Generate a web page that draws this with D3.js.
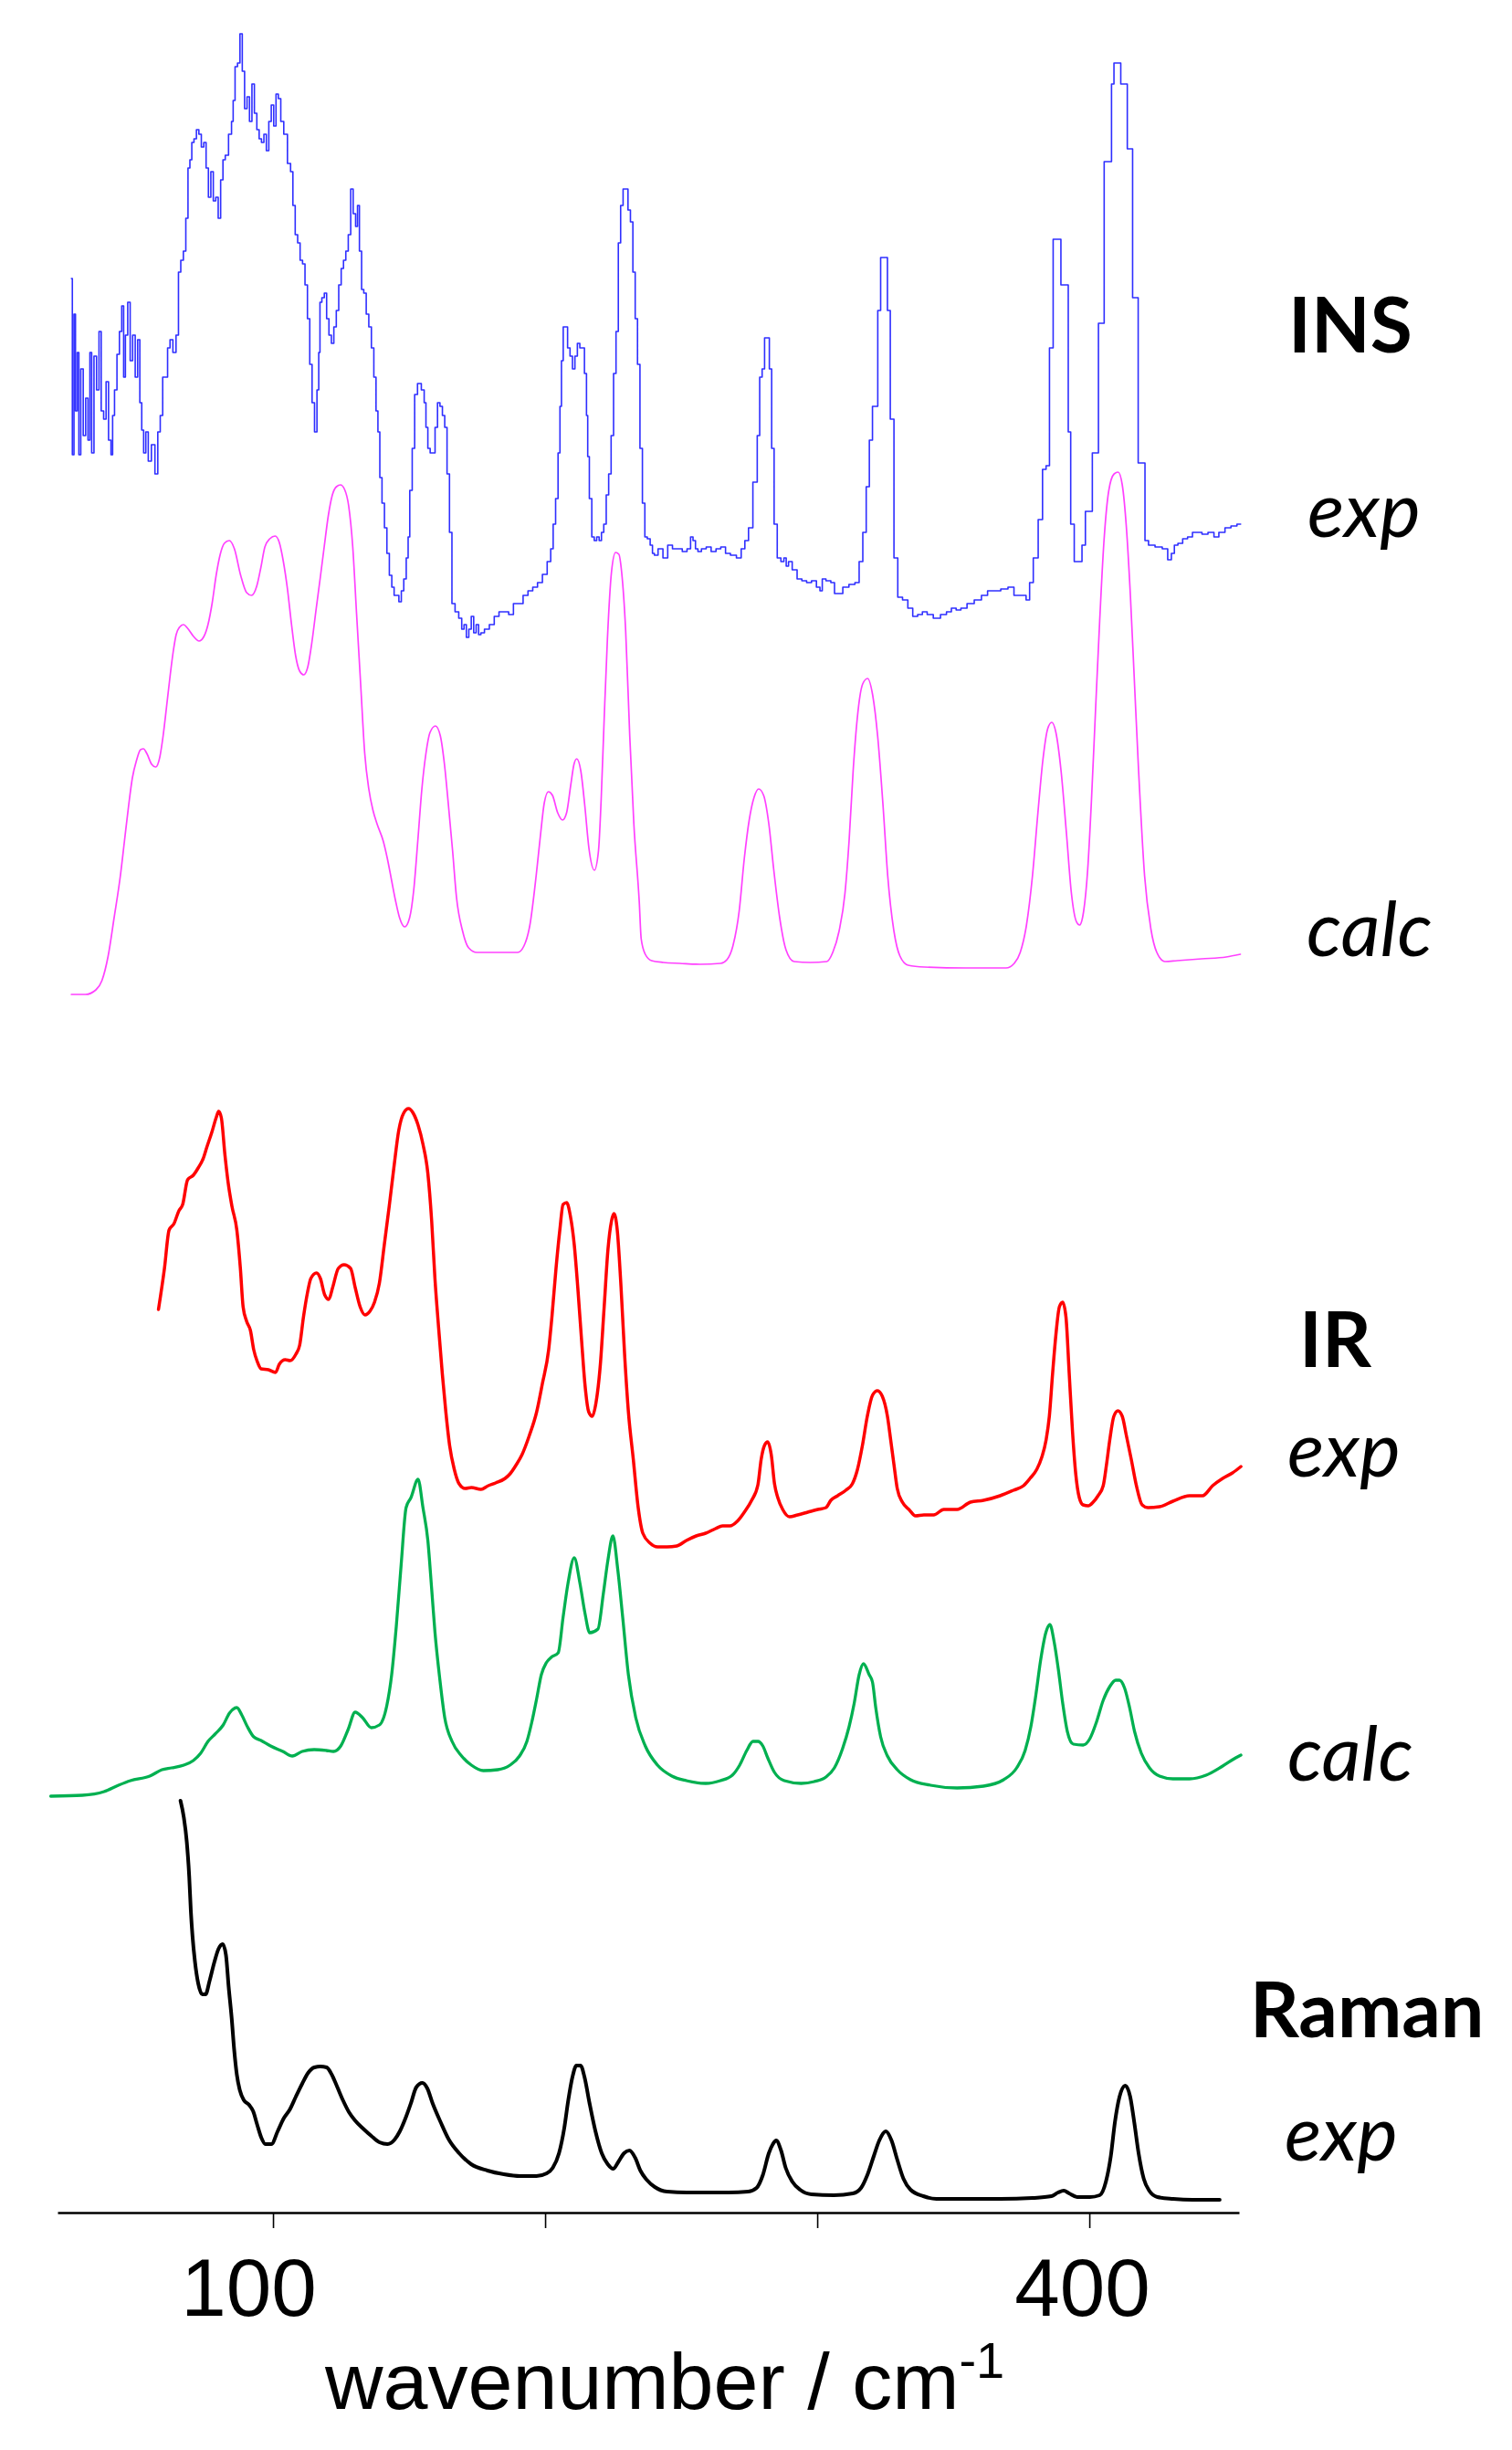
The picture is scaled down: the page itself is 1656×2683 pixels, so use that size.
<!DOCTYPE html>
<html><head>
<meta charset="utf-8">
<title>INS / IR / Raman spectra</title>
<script src="https://d3js.org/d3.v7.min.js"></script>
<style>
  body { margin: 0; background: #fff; }
  .label { font-family: Lato, "Open Sans", sans-serif; font-size: 84px; fill: #000; }
  .label.bold { font-weight: 700; }
  .label.ital { font-style: italic; }
  .axis text { font-family: "Liberation Sans", Arial, sans-serif; font-size: 89px; fill: #000; }
  .axis path, .axis line { stroke: #000; }
  .title { font-family: "Liberation Sans", Arial, sans-serif; font-size: 88px; fill: #000; }
  .spectrum { fill: none; stroke-linejoin: round; stroke-linecap: round; }
</style>
</head>
<body>
<svg id="chart" width="1656" height="2683"></svg>

<script>
// wavenumber (cm-1), intensity (arb. units) pairs

// INS experimental (binned histogram)
const insExp = [[25.9,395],[26.6,202],[27.1,356],[27.7,250],[28.4,314],[28.9,202],[29.8,296],[30.7,223],[31.6,264],[32.4,218],[33.0,314],[33.7,204],[34.7,310],[35.6,273],[36.5,337],[37.2,250],[38.3,241],[39.0,282],[40.1,218],[40.8,202],[41.3,245],[42.2,273],[43.1,312],[44.0,337],[44.8,365],[45.4,287],[46.1,333],[47.1,369],[47.9,305],[48.9,333],[49.8,287],[50.7,328],[51.4,259],[52.1,229],[52.8,204],[53.7,227],[54.6,195],[56.0,213],[57.2,181],[58.1,227],[59.0,245],[59.9,287],[60.8,287],[61.7,319],[62.6,328],[63.8,314],[64.9,333],[65.6,402],[66.6,415],[67.5,425],[68.4,461],[69.1,516],[69.8,525],[70.5,544],[71.4,548],[72.3,558],[73.2,553],[74.1,539],[75.0,544],[75.8,516],[76.7,484],[77.6,512],[78.5,480],[79.4,484],[80.3,461],[81.2,503],[82.0,525],[82.9,530],[84.4,553],[85.1,567],[85.6,590],[86.5,627],[87.4,631],[88.3,663],[89.1,622],[90.0,581],[90.9,594],[91.8,567],[92.7,608],[93.6,576],[94.5,558],[95.3,548],[96.2,544],[97.1,553],[98.0,535],[98.9,567],[99.8,585],[100.7,562],[101.5,597],[102.4,592],[103.3,567],[104.6,553],[106.0,521],[106.9,512],[107.7,475],[108.6,443],[109.5,434],[110.4,415],[111.3,411],[112.2,388],[113.1,351],[113.9,301],[114.8,259],[115.7,227],[116.6,273],[117.0,314],[117.5,369],[118.4,374],[119.3,379],[120.1,351],[121.0,333],[121.9,324],[122.8,342],[123.7,360],[124.6,388],[125.5,406],[126.3,415],[127.2,425],[128.1,443],[129.0,493],[129.9,466],[130.8,452],[131.3,475],[132.2,425],[132.9,383],[133.8,379],[134.7,356],[135.7,342],[136.6,319],[137.5,287],[138.2,250],[138.9,227],[139.6,177],[140.5,149],[141.4,122],[142.3,94],[143.2,70],[144.1,57],[144.9,48],[145.8,48],[146.7,41],[147.6,53],[148.5,66],[149.4,89],[149.9,112],[150.6,163],[151.7,209],[152.4,268],[153.8,280],[155.2,273],[155.9,259],[156.5,232],[157.3,209],[158.2,204],[159.1,204],[160.0,232],[160.9,259],[161.8,255],[162.7,245],[163.5,232],[164.4,181],[165.3,117],[166.2,39],[167.6,30],[168.9,23],[169.8,11],[170.6,16],[171.5,2],[172.4,11],[173.3,25],[174.2,7],[175.1,16],[176.0,5],[176.8,7],[178.6,11],[180.4,16],[182.2,25],[183.9,30],[185.7,30],[187.5,27],[189.2,39],[191.0,39],[192.8,48],[194.6,53],[196.3,57],[198.1,62],[199.9,71],[201.6,85],[202.5,99],[203.4,126],[204.3,154],[205.2,204],[205.7,255],[206.3,305],[207.0,342],[207.8,342],[208.7,319],[209.6,310],[210.5,296],[211.4,310],[212.3,324],[213.2,319],[214.0,319],[214.9,291],[215.5,245],[215.8,200],[216.7,154],[217.6,112],[218.5,108],[219.4,112],[220.3,108],[221.1,117],[222.0,126],[222.9,158],[223.8,181],[224.7,223],[225.6,291],[226.5,337],[227.3,434],[228.2,475],[229.1,493],[230.0,493],[230.9,470],[231.8,457],[232.7,402],[233.5,351],[234.4,301],[235.3,209],[236.2,149],[237.1,112],[238.0,110],[239.2,103],[239.7,94],[240.6,92],[242.4,99],[244.2,89],[245.9,103],[247.7,99],[249.5,99],[251.3,96],[253.0,99],[253.9,112],[254.8,108],[255.7,99],[256.6,96],[258.3,99],[260.1,101],[261.9,96],[263.7,99],[265.4,101],[267.2,94],[269.0,92],[271.6,89],[272.5,99],[274.3,108],[275.2,122],[277.5,172],[278.4,223],[279.3,287],[280.2,296],[281.1,330],[282.0,330],[282.8,296],[283.7,209],[284.6,126],[286.0,89],[287.3,85],[288.2,89],[289.0,80],[289.9,85],[291.7,76],[293.5,66],[295.2,64],[297.0,62],[298.8,64],[300.6,57],[301.4,53],[302.3,66],[304.1,64],[305.9,62],[306.8,50],[308.5,50],[310.3,57],[313.0,60],[314.7,62],[316.1,85],[317.4,117],[318.6,167],[319.7,218],[320.9,255],[321.8,255],[322.7,360],[323.9,418],[325.4,418],[326.2,360],[327.5,241],[328.9,89],[330.3,46],[332.4,43],[334.2,34],[336.0,25],[337.8,27],[339.5,30],[341.3,27],[344.0,23],[346.6,27],[348.4,30],[350.2,34],[351.9,32],[353.7,34],[356.4,39],[359.0,43],[361.7,48],[363.5,53],[366.1,53],[368.8,55],[371.4,57],[373.2,48],[375.9,48],[377.6,43],[378.5,62],[380.3,89],[382.1,131],[383.5,186],[384.7,190],[386.0,319],[387.4,438],[389.1,438],[390.0,388],[391.8,388],[392.7,227],[393.6,126],[395.3,85],[396.6,85],[398.0,103],[399.1,140],[400.7,140],[401.5,204],[403.0,204],[403.7,346],[405.1,346],[405.8,523],[407.7,523],[408.6,608],[409.5,631],[411.3,631],[411.8,608],[413.6,608],[414.3,537],[415.7,537],[416.1,374],[417.5,374],[418.4,193],[420.2,193],[420.7,108],[422.8,103],[425.5,101],[428.1,99],[429.5,87],[430.8,94],[431.7,103],[433.4,105],[435.2,110],[437.0,112],[438.8,117],[440.5,117],[442.3,115],[444.9,117],[446.7,112],[448.5,117],[451.2,122],[452.9,124],[455.6,126]];

// INS calculated
const insCalc = [[25.9,1],[31.1,1],[34.9,6],[37.1,16],[39.4,43],[41.6,85],[43.9,131],[45.4,169],[46.9,207],[48.3,238],[49.8,257],[51.3,269],[52.4,270],[53.6,265],[55.4,253],[56.9,250],[58.4,261],[59.6,284],[61.1,322],[62.3,353],[63.3,376],[64.4,395],[65.6,403],[67.1,406],[68.6,402],[70.8,393],[72.8,388],[74.6,393],[76.1,406],[77.6,429],[79.1,460],[80.6,483],[82.1,495],[83.9,498],[85.8,489],[88.1,460],[90.3,441],[92.1,438],[94.0,448],[95.5,468],[97.0,491],[98.8,500],[100.8,503],[102.3,496],[103.8,475],[105.3,445],[106.8,406],[108.3,372],[109.8,355],[111.3,351],[112.8,360],[114.3,387],[115.8,422],[117.3,456],[118.8,491],[120.3,525],[121.8,548],[123.3,557],[124.8,559],[126.3,554],[127.8,536],[129.3,491],[130.7,418],[132.2,341],[133.7,265],[135.2,226],[136.7,203],[138.2,188],[140.5,169],[142.0,150],[143.5,127],[145.0,104],[146.5,85],[148.4,75],[150.2,85],[151.7,115],[153.2,169],[154.7,226],[156.2,265],[157.7,288],[159.7,295],[161.5,284],[163.0,253],[164.5,207],[166.0,158],[167.4,108],[169.7,70],[171.9,52],[174.9,47],[179.4,47],[189.9,47],[192.2,54],[194.4,77],[196.7,131],[198.2,173],[199.7,211],[201.2,223],[202.7,219],[204.6,200],[206.4,192],[207.9,200],[209.4,230],[210.6,253],[211.6,259],[213.1,246],[214.6,207],[216.1,161],[218.1,137],[219.6,158],[220.6,215],[221.7,303],[222.9,391],[224.4,464],[225.9,485],[227.1,483],[228.1,464],[229.6,399],[231.1,284],[232.6,188],[234.6,102],[235.3,62],[236.8,45],[239.1,38],[243.5,36],[249.5,35],[257.0,34],[264.5,35],[266.8,39],[269.0,54],[271.3,92],[273.2,150],[275.0,192],[276.8,217],[278.5,226],[280.3,219],[282.2,188],[284.0,138],[286.2,85],[288.5,50],[291.5,37],[297.5,36],[303.5,37],[305.7,47],[308.0,70],[310.2,112],[311.7,169],[313.2,246],[314.7,303],[316.7,341],[318.5,347],[320.3,330],[322.2,284],[324.2,207],[325.9,131],[328.2,70],[330.4,43],[333.4,33],[339.4,31],[354.4,30],[369.4,30],[372.4,35],[374.6,47],[376.9,77],[379.1,131],[381.1,200],[382.9,257],[384.7,292],[386.2,299],[387.7,288],[389.6,246],[391.6,177],[393.4,112],[395.2,81],[396.4,77],[397.9,92],[399.4,138],[400.8,215],[402.3,314],[403.8,410],[405.3,494],[407.1,552],[409.1,571],[410.6,573],[412.1,559],[413.6,513],[415.1,437],[416.6,341],[418.1,246],[420.3,131],[422.6,73],[424.8,47],[427.8,37],[432.3,38],[441.3,40],[450.3,42],[455.5,45]];

// IR experimental
const irExp = [[57.9,266],[60.1,311],[61.8,353],[63.6,360],[65.4,374],[66.8,381],[68.6,408],[70.7,413],[72.5,421],[74.3,431],[75.7,444],[77.5,460],[79.1,476],[80.0,483],[81.0,476],[82.3,436],[83.5,405],[84.9,379],[86.7,353],[88.0,311],[89.0,269],[90.3,253],[91.7,243],[92.9,222],[94.2,209],[95.6,201],[98.3,200],[100.9,197],[102.3,206],[104.5,211],[106.3,210],[108.4,217],[109.8,227],[111.2,258],[112.7,285],[113.9,300],[116.0,306],[117.4,300],[119.0,282],[120.5,277],[121.9,290],[124.0,311],[126.1,315],[128.5,311],[130.2,290],[132.0,269],[133.8,260],[135.6,264],[137.3,274],[139.1,295],[140.9,337],[142.7,379],[144.4,421],[146.2,462],[148.0,481],[149.8,486],[151.5,481],[153.3,468],[155.1,447],[156.9,415],[158.3,363],[159.5,300],[160.8,248],[162.2,196],[163.5,154],[164.9,117],[166.6,91],[168.4,75],[170.6,70],[172.9,71],[176.4,69],[179.1,73],[181.8,76],[185.3,81],[187.1,86],[189.4,96],[191.5,107],[194.2,128],[196.9,154],[199.0,185],[201.3,222],[202.5,258],[204.0,311],[205.4,353],[206.6,381],[207.9,383],[209.3,368],[210.7,337],[212.0,290],[213.4,232],[214.6,185],[216.0,154],[217.3,149],[218.7,164],[220.3,206],[221.7,269],[223.1,332],[224.4,363],[225.3,371],[226.5,353],[227.9,290],[229.2,217],[230.6,154],[232.4,102],[234.2,49],[235.9,21],[238.6,10],[241.3,6],[244.8,6],[248.4,7],[251.9,13],[255.5,18],[259.0,21],[262.6,26],[265.2,29],[267.9,29],[270.6,34],[273.2,44],[275.9,57],[278.2,74],[279.4,102],[280.6,117],[281.8,121],[283.1,107],[284.3,75],[285.5,60],[287.3,47],[289.8,39],[292.8,41],[296.5,44],[300.2,47],[303.2,49],[305.0,57],[307.5,62],[310.5,68],[312.9,75],[314.8,91],[316.6,117],[318.4,149],[320.3,172],[322.1,177],[323.9,171],[325.8,149],[327.0,123],[328.2,96],[329.4,70],[331.3,55],[333.7,47],[336.1,40],[339.2,41],[342.8,41],[346.5,47],[351.4,47],[356.3,55],[361.1,57],[367.2,62],[372.1,68],[375.8,73],[378.2,81],[380.7,91],[382.5,104],[384.1,123],[385.3,149],[386.5,196],[387.7,238],[389.0,269],[390.2,274],[391.4,258],[392.6,196],[393.8,133],[395.0,86],[396.3,60],[397.7,52],[399.6,51],[401.4,55],[403.2,62],[405.1,73],[406.3,96],[407.5,123],[409.0,149],[410.5,155],[412.1,149],[413.6,128],[415.4,102],[417.3,73],[419.4,52],[421.5,49],[425.8,50],[430.7,56],[436.8,62],[441.6,62],[445.3,73],[449.0,81],[452.6,87],[455.7,94]];

// IR calculated
const irCalc = [[18.3,3],[29.9,4],[37.9,8],[43.2,15],[47.6,20],[54.7,25],[59.2,32],[62.7,34],[67.2,37],[70.7,42],[73.4,50],[76.1,63],[78.7,71],[81.7,81],[84.0,94],[86.7,100],[88.5,92],[90.6,79],[92.9,68],[95.6,64],[99.1,58],[103.6,52],[107.1,47],[110.7,52],[115.1,54],[119.6,53],[122.2,52],[124.9,58],[127.6,76],[130.2,95],[132.9,89],[136.1,78],[139.1,81],[141.8,102],[143.6,136],[145.3,189],[147.1,257],[148.9,319],[150.7,330],[153.3,350],[155.1,319],[156.9,283],[158.3,230],[159.5,183],[161.3,131],[163.1,89],[165.8,63],[169.3,47],[172.9,37],[177.3,31],[182.6,32],[187.1,37],[190.6,47],[193.3,63],[195.1,84],[196.9,110],[198.6,136],[200.4,149],[202.2,155],[204.8,160],[206.6,199],[208.4,236],[210.7,264],[212.8,236],[214.6,204],[216.4,182],[219.4,186],[221.4,225],[223.1,262],[224.9,288],[226.7,251],[228.5,199],[230.6,136],[233.3,89],[236.8,58],[241.3,37],[246.6,25],[251.9,20],[259.0,17],[264.4,20],[268.8,26],[271.5,37],[274.1,53],[276.4,63],[278.2,63],[280.0,58],[281.8,45],[284.3,29],[287.9,20],[294.1,17],[298.9,19],[303.2,24],[306.3,34],[309.3,55],[311.7,79],[313.6,105],[315.4,136],[317.0,148],[319.1,136],[320.3,128],[321.5,100],[323.3,68],[325.8,47],[329.4,32],[334.3,21],[341.6,15],[351.4,12],[361.1,14],[368.5,21],[373.3,34],[376.4,53],[378.5,79],[380.4,115],[382.1,152],[384.1,183],[385.5,191],[387.0,173],[388.6,142],[390.2,105],[391.9,74],[394.1,60],[397.7,59],[400.2,66],[402.6,84],[405.1,108],[407.5,123],[409.7,130],[411.1,130],[413.0,121],[414.8,100],[416.6,74],[419.1,50],[422.1,34],[425.8,25],[430.7,22],[436.8,22],[442.9,26],[449.0,36],[453.8,45],[455.7,48]];

// Raman experimental
const ramanExp = [[66.0,440],[67.2,422],[68.3,395],[69.2,357],[69.8,319],[70.4,292],[71.3,264],[72.5,240],[74.0,228],[75.2,228],[76.7,243],[78.5,264],[80.0,278],[81.5,283],[82.7,271],[83.7,236],[84.8,202],[85.7,168],[86.7,140],[87.8,123],[89.3,112],[91.2,107],[92.7,100],[94.2,85],[95.7,71],[97.2,64],[99.4,64],[101.7,78],[103.9,92],[106.2,102],[108.4,116],[110.7,130],[112.9,142],[115.2,148],[117.4,149],[119.7,148],[121.6,140],[123.4,128],[125.7,112],[127.9,99],[130.1,90],[133.1,81],[136.1,73],[139.1,66],[142.1,64],[144.7,69],[146.6,78],[148.9,94],[150.7,109],[152.6,126],[154.9,131],[156.7,125],[158.6,109],[161.6,88],[164.6,69],[168.4,54],[172.8,42],[178.8,35],[184.8,31],[190.8,29],[196.8,29],[200.6,32],[202.8,38],[205.1,54],[207.0,81],[208.5,112],[210.0,137],[211.5,150],[213.0,150],[214.5,137],[216.3,109],[218.5,78],[220.8,54],[223.0,42],[225.0,37],[226.8,44],[229.0,54],[231.0,57],[233.1,49],[235.0,35],[237.3,25],[240.3,17],[244.8,12],[252.2,11],[267.2,11],[274.7,12],[277.7,16],[280.0,30],[282.2,54],[283.7,64],[284.9,68],[286.7,57],[288.4,38],[290.8,23],[293.7,14],[297.8,9],[306.1,8],[313.1,10],[316.1,16],[318.4,30],[320.8,51],[322.8,68],[325.2,78],[327.3,68],[329.4,47],[331.7,26],[334.3,14],[339.0,7],[343.8,4],[355.5,4],[367.3,4],[379.1,5],[386.1,7],[388.5,11],[390.6,13],[392.6,10],[395.5,6],[400.2,6],[403.8,8],[406.1,23],[407.9,51],[409.4,88],[411.1,116],[413.2,128],[415.0,116],[416.5,88],[418.1,54],[420.0,26],[422.0,13],[425.0,6],[430.8,4],[437.9,3],[447.9,3]];

// axis ticks
const tickValues = [100, 200, 300, 400];
const tickLabels = ["100", "", "", "400"];

// side labels
const labelTexts = ["INS", "exp", "calc", "IR", "exp", "calc", "Raman", "exp"];


// ---- drawing ----
let svg = d3.select("svg#chart");

let x = d3.scaleLinear().domain([20.8, 455]).range([63, 1357]);

// each trace gets its own vertical band (baseline / top of band in px)
let traces = [
  { data: insExp,   base: 700,  top: 37,   color: "#0000ff", width: 1.6, opacity: 0.82, curve: d3.curveStep },
  { data: insCalc,  base: 1090, top: 517,  color: "#ff00ff", width: 1.7, opacity: 0.75, curve: d3.curveMonotoneX },
  { data: irExp,    base: 1700, top: 1214, color: "#ff0000", width: 3.5, opacity: 1,    curve: d3.curveMonotoneX },
  { data: irCalc,   base: 1970, top: 1620, color: "#00b050", width: 3.3, opacity: 1,    curve: d3.curveMonotoneX },
  { data: ramanExp, base: 2412, top: 1972, color: "#000000", width: 4,   opacity: 1,    curve: d3.curveMonotoneX }
];

let traceLayer = svg.append("g");

traces.forEach(t => {
  let y = d3.scaleLinear()
    .domain([0, d3.max(t.data, d => d[1])])
    .range([t.base, t.top]);

  let line = d3.line()
    .x(d => x(d[0]))
    .y(d => y(d[1]))
    .curve(t.curve);

  traceLayer.append("path")
    .datum(t.data)
    .attr("class", "spectrum")
    .attr("stroke", t.color)
    .attr("stroke-width", t.width)
    .attr("stroke-opacity", t.opacity)
    .attr("d", line);
});

// x axis
let xAxis = d3.axisBottom(x)
  .tickValues(tickValues)
  .tickSize(17)
  .tickSizeOuter(0)
  .tickFormat((d, i) => tickLabels[i]);

let gx = svg.append("g")
  .attr("class", "axis")
  .attr("transform", "translate(0,2423)")
  .call(xAxis);

gx.select(".domain").attr("stroke-width", 2.4);
gx.selectAll(".tick line").attr("stroke-width", 1.6);
// labels sit a little left of their ticks in the original
let labelShift = [-27, 0, 0, -8];
gx.selectAll(".tick text")
  .attr("y", 113)
  .attr("dy", 0)
  .attr("dx", (d, i) => labelShift[i]);

// axis title
let title = svg.append("text")
  .attr("class", "title")
  .attr("x", 356)
  .attr("y", 2638);
title.append("tspan").text("wavenumber / cm");
title.append("tspan").attr("dy", -34).attr("font-size", 56).text("-1");

// side labels
let labelPos = [
  { x: 1411, y: 386,  cls: "bold" },
  { x: 1432, y: 588,  cls: "ital" },
  { x: 1431, y: 1047, cls: "ital" },
  { x: 1423, y: 1497, cls: "bold" },
  { x: 1410, y: 1617, cls: "ital" },
  { x: 1410, y: 1950, cls: "ital" },
  { x: 1369, y: 2231, cls: "bold" },
  { x: 1407, y: 2366, cls: "ital" }
];

svg.append("g").selectAll("text")
  .data(labelTexts)
  .join("text")
  .attr("class", (d, i) => "label " + labelPos[i].cls)
  .attr("x", (d, i) => labelPos[i].x)
  .attr("y", (d, i) => labelPos[i].y)
  .text(d => d);
</script>
</body>
</html>
